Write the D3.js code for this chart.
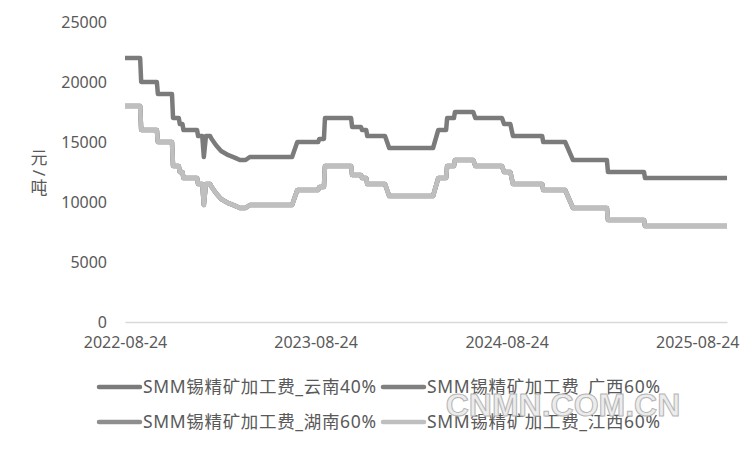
<!DOCTYPE html>
<html>
<head>
<meta charset="utf-8">
<script src="https://cdn.jsdelivr.net/npm/d3@7"></script>
<style>
  body { margin: 0; background: #fff; }
  text { font-family: "Noto Sans", "Noto Sans CJK SC", sans-serif; fill: #595959; }
</style>
</head>
<body>
<div id="wrapper"></div>
<script>
const dates = [
  "2022-08-24", "2022-09-22", "2022-09-24", "2022-10-24", "2022-10-26", "2022-11-22",
  "2022-11-24", "2022-12-05", "2022-12-07", "2022-12-12", "2022-12-14", "2023-01-09",
  "2023-01-11", "2023-01-19", "2023-01-22", "2023-01-26", "2023-02-03", "2023-02-06",
  "2023-02-14", "2023-02-24", "2023-03-10", "2023-03-22", "2023-04-01", "2023-04-12",
  "2023-04-20", "2023-07-10", "2023-07-20", "2023-08-29", "2023-08-31", "2023-09-09",
  "2023-09-11", "2023-10-31", "2023-11-02", "2023-11-19", "2023-11-21", "2023-11-29",
  "2023-12-01", "2024-01-04", "2024-01-12", "2024-04-05", "2024-04-15", "2024-04-30",
  "2024-05-02", "2024-05-15", "2024-05-17", "2024-06-21", "2024-06-25", "2024-08-15",
  "2024-08-19", "2024-08-31", "2024-09-05", "2024-10-31", "2024-11-02", "2024-12-14",
  "2024-12-29", "2025-03-04", "2025-03-06", "2025-05-14", "2025-05-16", "2025-10-20"
];

const yunnan40 = [
  22000, 22000, 20000, 20000, 19000, 19000,
  17000, 17000, 16500, 16500, 16000, 16000,
  15500, 15500, 13750, 15500, 15500, 15250,
  14750, 14250, 13900, 13700, 13500, 13500,
  13750, 13750, 15000, 15000, 15250, 15250,
  17000, 17000, 16250, 16250, 16000, 16000,
  15500, 15500, 14500, 14500, 16000, 16000,
  17000, 17000, 17500, 17500, 17000, 17000,
  16500, 16500, 15500, 15500, 15000, 15000,
  13500, 13500, 12500, 12500, 12000, 12000
];

const guangxi60 = [
  18000, 18000, 16000, 16000, 15000, 15000,
  13000, 13000, 12500, 12500, 12000, 12000,
  11500, 11500, 9750, 11500, 11500, 11250,
  10750, 10250, 9900, 9700, 9500, 9500,
  9750, 9750, 11000, 11000, 11250, 11250,
  13000, 13000, 12250, 12250, 12000, 12000,
  11500, 11500, 10500, 10500, 12000, 12000,
  13000, 13000, 13500, 13500, 13000, 13000,
  12500, 12500, 11500, 11500, 11000, 11000,
  9500, 9500, 8500, 8500, 8000, 8000
];

const hunan60 = [
  18000, 18000, 16000, 16000, 15000, 15000,
  13000, 13000, 12500, 12500, 12000, 12000,
  11500, 11500, 9750, 11500, 11500, 11250,
  10750, 10250, 9900, 9700, 9500, 9500,
  9750, 9750, 11000, 11000, 11250, 11250,
  13000, 13000, 12250, 12250, 12000, 12000,
  11500, 11500, 10500, 10500, 12000, 12000,
  13000, 13000, 13500, 13500, 13000, 13000,
  12500, 12500, 11500, 11500, 11000, 11000,
  9500, 9500, 8500, 8500, 8000, 8000
];

const jiangxi60 = [
  18000, 18000, 16000, 16000, 15000, 15000,
  13000, 13000, 12500, 12500, 12000, 12000,
  11500, 11500, 9750, 11500, 11500, 11250,
  10750, 10250, 9900, 9700, 9500, 9500,
  9750, 9750, 11000, 11000, 11250, 11250,
  13000, 13000, 12250, 12250, 12000, 12000,
  11500, 11500, 10500, 10500, 12000, 12000,
  13000, 13000, 13500, 13500, 13000, 13000,
  12500, 12500, 11500, 11500, 11000, 11000,
  9500, 9500, 8500, 8500, 8000, 8000
];

const seriesNames = [
  "SMM锡精矿加工费_云南40%",
  "SMM锡精矿加工费_广西60%",
  "SMM锡精矿加工费_湖南60%",
  "SMM锡精矿加工费_江西60%"
];
const seriesColors = ["#7b7b7b", "#808080", "#8e8e8e", "#bfbfbf"];
const xTickDates = ["2022-08-24", "2023-08-24", "2024-08-24", "2025-08-24"];
const yTicks = [0, 5000, 10000, 15000, 20000, 25000];
const yLabelChars = ["元", "/", "吨"];

function drawChart() {
  const parseDate = d3.timeParse("%Y-%m-%d");
  const allSeries = [yunnan40, guangxi60, hunan60, jiangxi60];

  const dimensions = {
    width: 750,
    height: 450,
    margin: { top: 22, right: 23, bottom: 128, left: 125 },
  };
  dimensions.boundedWidth = dimensions.width - dimensions.margin.left - dimensions.margin.right;
  dimensions.boundedHeight = dimensions.height - dimensions.margin.top - dimensions.margin.bottom;

  const svg = d3.select("#wrapper")
    .append("svg")
    .attr("width", dimensions.width)
    .attr("height", dimensions.height);

  const bounds = svg.append("g")
    .attr("transform", `translate(${dimensions.margin.left},${dimensions.margin.top})`);

  const xScale = d3.scaleTime()
    .domain(d3.extent(dates, parseDate))
    .range([0, dimensions.boundedWidth]);

  const yScale = d3.scaleLinear()
    .domain([0, 25000])
    .range([dimensions.boundedHeight, 0]);

  // y axis: labels only
  const yAxis = bounds.append("g")
    .call(d3.axisLeft(yScale).tickValues(yTicks).tickSize(0).tickPadding(18).tickFormat(d3.format("d")));
  yAxis.select(".domain").remove();
  yAxis.selectAll("text")
    .style("font-size", "16px")
    .attr("fill", "#595959");

  // x axis
  const xAxis = bounds.append("g")
    .attr("transform", `translate(0,${dimensions.boundedHeight})`)
    .call(d3.axisBottom(xScale)
      .tickValues(xTickDates.map(parseDate))
      .tickSize(0)
      .tickPadding(15)
      .tickFormat(d3.timeFormat("%Y-%m-%d")));
  xAxis.select(".domain")
    .attr("stroke", "#d9d9d9")
    .attr("stroke-width", 1.5);
  xAxis.selectAll("text")
    .style("font-size", "16px")
    .attr("fill", "#595959");

  // lines
  const lineGenerator = d3.line()
    .x((d, i) => xScale(parseDate(dates[i])))
    .y(d => yScale(d));

  allSeries.forEach((values, i) => {
    bounds.append("path")
      .attr("d", lineGenerator(values))
      .attr("fill", "none")
      .attr("stroke", seriesColors[i])
      .attr("stroke-width", 4.5)
      .attr("stroke-linejoin", "round");
  });

  // y label: one glyph per row, slash turned on its side
  const yLabel = svg.append("g").attr("class", "y-label");
  yLabelChars.forEach((ch, i) => {
    const cy = 158 + i * 15;
    yLabel.append("g")
      .attr("transform", `translate(39,${cy}) rotate(${ch === "/" ? 90 : 0})`)
      .append("text")
      .attr("text-anchor", "middle")
      .attr("y", 6)
      .style("font-size", "17px")
      .text(ch);
  });

  // legend
  const legendX = [97, 381];
  const legendY = [387, 422];
  seriesNames.forEach((name, i) => {
    const col = i % 2;
    const row = Math.floor(i / 2);
    const g = svg.append("g")
      .attr("transform", `translate(${legendX[col]},${legendY[row]})`);
    g.append("line")
      .attr("x1", 2).attr("x2", 43)
      .attr("stroke", seriesColors[i])
      .attr("stroke-width", 4.5)
      .attr("stroke-linecap", "round");
    g.append("text")
      .attr("x", 46)
      .attr("dy", "0.36em")
      .style("font-size", "17.5px")
      .attr("textLength", 233)
      .attr("lengthAdjust", "spacing")
      .text(name);
  });

  // watermark
  svg.append("text")
    .attr("x", 563)
    .attr("y", 416)
    .attr("text-anchor", "middle")
    .style("font-family", "Liberation Sans, Arial, sans-serif")
    .style("font-weight", "bold")
    .style("font-size", "32px")
    .style("fill", "#ececec")
    .attr("stroke", "#b5b5b5")
    .attr("stroke-width", 1)
    .text("CNMN.COM.CN");
}

drawChart();
</script>
</body>
</html>
